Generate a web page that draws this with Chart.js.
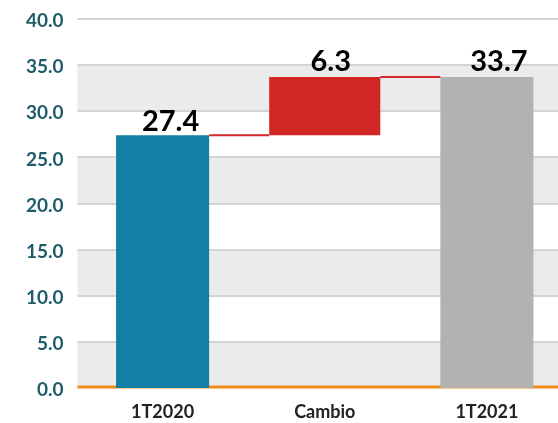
<!DOCTYPE html>
<html>
<head>
<meta charset="utf-8">
<script src="https://cdn.jsdelivr.net/npm/chart.js@4.4.0/dist/chart.umd.min.js"></script>
<style>
  html, body { margin: 0; padding: 0; background: #fff; overflow: hidden; }
  #chart { display: block; }
</style>
</head>
<body>
<canvas id="chart" width="568" height="423"></canvas>
<script>
const categories = ["1T2020", "Cambio", "1T2021"];
const startValue = 27.4;
const endValue = 33.7;
const change = 6.3;
const yTicks = [0, 5, 10, 15, 20, 25, 30, 35, 40];

const totals = [startValue, null, endValue];
const changeBar = [null, [startValue, endValue], null];
const labels = ["27.4", "6.3", "33.7"];

const tickColor = "#1f5b6b";

// bands, grid lines and orange zero line
const backdrop = {
  id: "backdrop",
  beforeDatasetsDraw(chart) {
    const { ctx, chartArea: a, scales: { y } } = chart;
    const left = a.left - 4, right = chart.width;
    ctx.save();
    for (let i = 0; i < yTicks.length - 1; i++) {
      if (i % 2 === 0) {
        const y0 = y.getPixelForValue(yTicks[i]), y1 = y.getPixelForValue(yTicks[i + 1]);
        ctx.fillStyle = "#ebebeb";
        ctx.fillRect(left, y1, right - left, y0 - y1);
      }
    }
    yTicks.forEach(t => {
      if (t === 0) return;
      const py = Math.round(y.getPixelForValue(t));
      ctx.strokeStyle = "#d4d4d4";
      ctx.lineWidth = 2;
      ctx.beginPath(); ctx.moveTo(left, py); ctx.lineTo(right, py); ctx.stroke();
    });
    const z = y.getPixelForValue(0);
    ctx.strokeStyle = "#f08c1a";
    ctx.lineWidth = 3;
    ctx.beginPath(); ctx.moveTo(left, z - 1); ctx.lineTo(right, z - 1); ctx.stroke();
    ctx.restore();
  }
};

// connector lines and value labels
const overlay = {
  id: "overlay",
  afterDatasetsDraw(chart) {
    const { ctx, scales: { y } } = chart;
    const t = chart.getDatasetMeta(0).data, c = chart.getDatasetMeta(1).data;
    const y1 = y.getPixelForValue(startValue), y2 = y.getPixelForValue(endValue);
    ctx.save();
    ctx.strokeStyle = "#d4282a";
    ctx.lineWidth = 2;
    ctx.beginPath();
    ctx.moveTo(t[0].x + t[0].width / 2, y1); ctx.lineTo(c[1].x - c[1].width / 2, y1);
    ctx.moveTo(c[1].x + c[1].width / 2, y2); ctx.lineTo(t[2].x - t[2].width / 2, y2);
    ctx.stroke();
    ctx.fillStyle = "#000";
    ctx.font = "bold 29px Lato";
    ctx.textAlign = "center";
    ctx.textBaseline = "alphabetic";
    ctx.fillText(labels[0], t[0].x + 8, y1 - 4);
    ctx.fillText(labels[1], c[1].x + 6, y2 - 6);
    ctx.fillText(labels[2], t[2].x + 12, y2 - 6);
    ctx.restore();
  }
};

new Chart(document.getElementById("chart"), {
  type: "bar",
  data: {
    labels: categories,
    datasets: [
      { data: totals, backgroundColor: ["#137ea6", null, "#b2b2b2"], barPercentage: 0.574, categoryPercentage: 1, grouped: false },
      { data: changeBar, backgroundColor: "#d12624", barPercentage: 0.685, categoryPercentage: 1, grouped: false }
    ]
  },
  options: {
    responsive: false,
    animation: false,
    layout: { padding: { top: 0, right: 0, bottom: 0, left: 0 } },
    plugins: { legend: { display: false }, tooltip: { enabled: false } },
    scales: {
      x: {
        grid: { display: false, drawTicks: false },
        border: { display: false },
        afterFit: s => { s.height = 35; },
        ticks: { color: "#222", font: { family: "Lato", weight: "bold", size: 18 }, padding: 13 }
      },
      y: {
        min: 0, max: 40,
        afterBuildTicks: s => { s.ticks = yTicks.map(v => ({ value: v })); },
        afterFit: s => { s.width = 81.5; s.paddingTop = 19; s.paddingBottom = 0; },
        grid: { display: false, drawTicks: false },
        border: { display: false },
        ticks: {
          color: tickColor,
          font: { family: "Lato", weight: "bold", size: 19 },
          padding: 18,
          labelOffset: 2,
          callback: v => v.toFixed(1)
        }
      }
    }
  },
  plugins: [backdrop, overlay]
});
</script>
</body>
</html>
